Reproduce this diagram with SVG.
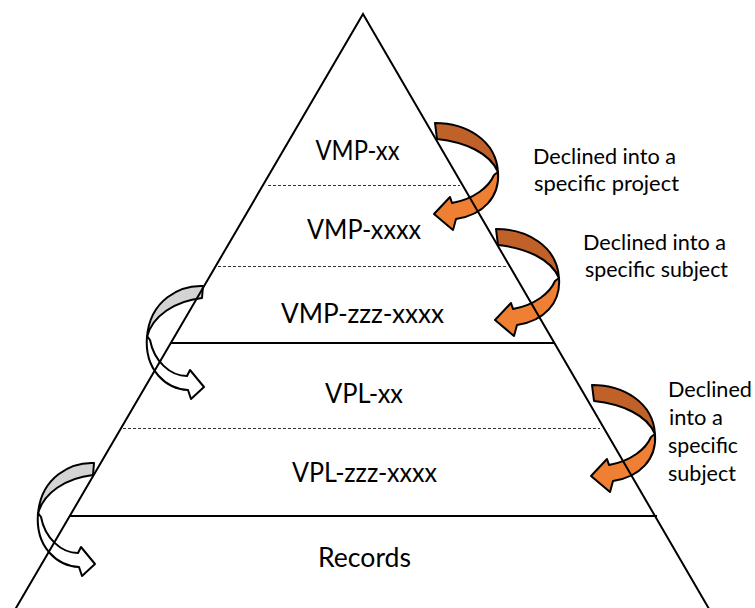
<svg xmlns="http://www.w3.org/2000/svg" width="755" height="608" viewBox="0 0 755 608">
<style>
  .edge { fill: none; stroke: #000; stroke-width: 2; }
  .dash { fill: none; stroke: #333; stroke-width: 1; stroke-dasharray: 3 2; }
  .ol { stroke: #000; stroke-width: 2; stroke-linejoin: round; }
  .dk { fill: #BF6129; }
  .lt { fill: #EE7F33; }
  .gr { fill: #D4D4D4; }
  .wh { fill: #FFFFFF; }
  .lbl { font-family: Lato, "Open Sans", sans-serif; font-size: 26px; fill: #000; text-anchor: middle; }
  .side { font-family: Lato, "Open Sans", sans-serif; font-size: 21px; fill: #000; }
</style>
<defs>
  <g id="orangeArrow">
    <path class="ol lt" d="M 498,172 C 500,197 483,215 456,219 L 453,230 L 434,214 L 450,197 L 452,203 C 474,199 489,187 494,175 Z"/>
    <path class="ol dk" d="M 435,123 C 466,123 496,140 498,172 C 490,153 465,142 437,139 Z"/>
  </g>
  <g id="grayArrow">
    <path class="ol wh" d="M 147,336 C 144,371 167,389 188,390 L 191,399 L 204,387 L 190,370 L 187,376 C 170,376 154,361 150,340 Z"/>
    <path class="ol gr" d="M 203,286 C 180,285 150,300 147,337 C 152,316 175,301 202,298 Z"/>
  </g>
</defs>

<g id="connectors">
  <use id="arrow-vmpxx" href="#orangeArrow"/>
  <use id="arrow-vmpxxxx" href="#orangeArrow" transform="translate(61,106)"/>
  <use id="arrow-vplxx" href="#orangeArrow" transform="translate(157,262)"/>
  <use id="arrow-vmp-to-vpl" href="#grayArrow"/>
  <use id="arrow-vpl-to-records" href="#grayArrow" transform="translate(-109,177)"/>
</g>

<g id="pyramid">
  <polyline class="edge" points="12.5,614 363,14 712,614"/>
  <line class="dash" x1="268" y1="185.5" x2="460" y2="185.5"/>
  <line class="dash" x1="218" y1="266.5" x2="508" y2="266.5"/>
  <line class="edge" x1="170" y1="343" x2="555" y2="343"/>
  <line class="dash" x1="123" y1="428.5" x2="600" y2="428.5"/>
  <line class="edge" x1="70" y1="516" x2="657" y2="516"/>
</g>

<g id="node-vmp-xx"><text class="lbl" x="357.5" y="159.5" textLength="84" lengthAdjust="spacingAndGlyphs">VMP-xx</text></g>
<g id="node-vmp-xxxx"><text class="lbl" x="364" y="238.5" textLength="114" lengthAdjust="spacingAndGlyphs">VMP-xxxx</text></g>
<g id="node-vmp-zzz-xxxx"><text class="lbl" x="362.5" y="322.5" textLength="163" lengthAdjust="spacingAndGlyphs">VMP-zzz-xxxx</text></g>
<g id="node-vpl-xx"><text class="lbl" x="364" y="402.5" textLength="78" lengthAdjust="spacingAndGlyphs">VPL-xx</text></g>
<g id="node-vpl-zzz-xxxx"><text class="lbl" x="364.5" y="482" textLength="145" lengthAdjust="spacingAndGlyphs">VPL-zzz-xxxx</text></g>
<g id="node-records"><text class="lbl" x="364.5" y="567" textLength="93" lengthAdjust="spacingAndGlyphs">Records</text></g>

<g id="label-project">
  <text class="side" x="533" y="164" textLength="143" lengthAdjust="spacingAndGlyphs">Declined into a</text>
  <text class="side" x="534" y="191" textLength="145" lengthAdjust="spacingAndGlyphs">specific project</text>
</g>
<g id="label-subject-1">
  <text class="side" x="583" y="250" textLength="143" lengthAdjust="spacingAndGlyphs">Declined into a</text>
  <text class="side" x="585" y="277" textLength="143" lengthAdjust="spacingAndGlyphs">specific subject</text>
</g>
<g id="label-subject-2">
  <text class="side" x="668" y="397" textLength="84" lengthAdjust="spacingAndGlyphs">Declined</text>
  <text class="side" x="669" y="425" textLength="54" lengthAdjust="spacingAndGlyphs">into a</text>
  <text class="side" x="668" y="453" textLength="70" lengthAdjust="spacingAndGlyphs">specific</text>
  <text class="side" x="668" y="481" textLength="68" lengthAdjust="spacingAndGlyphs">subject</text>
</g>
</svg>
